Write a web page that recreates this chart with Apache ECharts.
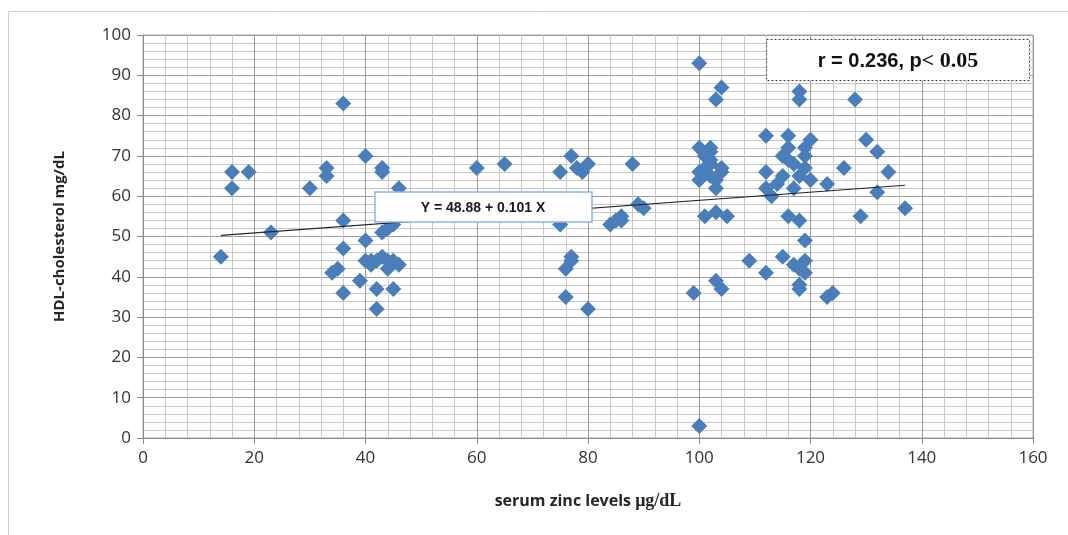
<!DOCTYPE html>
<html>
<head>
<meta charset="utf-8">
<script src="https://cdn.jsdelivr.net/npm/echarts@6/dist/echarts.min.js"></script>
<style>
html,body{margin:0;padding:0;background:#fff;}
#c{width:1068px;height:535px;}
</style>
</head>
<body>
<div id="c"></div>
<script>
// serum zinc (µg/dL) values
var zinc = [
 14,16,16,19,23,30,33,33,36,36,36,36,34,35,39,40,40,40,41,42,42,43,43,43,43,44,44,45,45,45,46,46,41,44,42,
 60,65,75,75,76,76,77,77,77,78,79,80,80,84,85,86,86,88,89,90,
 99,100,100,100,100,100,101,101,102,102,102,102,103,103,103,103,103,104,104,104,104,105,102,101,
 109,112,112,112,112,113,114,115,115,115,116,116,116,116,117,117,118,118,118,118,118,118,118,119,119,119,119,119,119,120,120,117,123,123,124,126,128,129,130,132,132,134,137
];
// HDL-cholesterol (mg/dL) values
var hdl = [
 45,66,62,66,51,62,67,65,83,54,47,36,41,42,39,70,49,44,43,37,32,67,66,51,45,42,44,37,53,44,62,43,44,52,44,
 67,68,66,53,42,35,70,45,44,67,66,68,32,53,54,55,54,68,58,57,
 36,93,72,66,64,3,67,55,72,71,68,65,84,62,64,56,39,87,67,66,37,55,69,70,
 44,75,66,62,41,60,63,70,65,45,75,72,69,55,68,43,86,84,65,54,42,38,37,72,70,67,49,44,41,74,64,62,63,35,36,67,84,55,74,71,61,66,57
];
// regression: Y = 48.88 + 0.101 X, drawn over the data range
var trendIntercept = 48.88;
var trendSlope = 0.101;
var trendX = [14, 137];

var xTicks = {min: 0, max: 160, interval: 20};
var yTicks = {min: 0, max: 100, interval: 10};

var points = zinc.map(function (x, i) { return [x, hdl[i]]; });
var trend = trendX.map(function (x) { return [x, trendIntercept + trendSlope * x]; });

var chart = echarts.init(document.getElementById('c'), null, {renderer: 'canvas'});
var labelFont = '"Open Sans", "Liberation Sans", sans-serif';
chart.setOption({
  animation: false,
  backgroundColor: '#ffffff',
  grid: {left: 143, top: 35, right: 35, bottom: 97, show: true, borderColor: '#a6a6a6', borderWidth: 1},
  xAxis: {
    type: 'value', min: xTicks.min, max: xTicks.max, interval: xTicks.interval,
    axisLine: {show: true, onZero: false, lineStyle: {color: '#8c8c8c'}},
    axisTick: {show: true, length: 6, lineStyle: {color: '#8c8c8c'}},
    axisLabel: {color: '#333333', fontSize: 17, fontFamily: labelFont, margin: 12},
    splitLine: {show: true, lineStyle: {color: '#9c9c9c', width: 1}},
    minorTick: {show: false, splitNumber: 5},
    minorSplitLine: {show: true, lineStyle: {color: '#c8c8c8', width: 1}},
    name: '{a|serum zinc levels }{b|μg/dL}',
    nameLocation: 'middle', nameGap: 54,
    nameTextStyle: {
      rich: {
        a: {fontSize: 16, fontWeight: 'bold', color: '#262626', fontFamily: labelFont},
        b: {fontSize: 18, fontWeight: 'bold', color: '#262626', fontFamily: '"Liberation Serif", serif'}
      }
    }
  },
  yAxis: {
    type: 'value', min: yTicks.min, max: yTicks.max, interval: yTicks.interval,
    axisLine: {show: true, lineStyle: {color: '#8c8c8c'}},
    axisTick: {show: true, length: 6, lineStyle: {color: '#8c8c8c'}},
    axisLabel: {color: '#333333', fontSize: 17, fontFamily: labelFont, margin: 12},
    splitLine: {show: true, lineStyle: {color: '#9c9c9c', width: 1}},
    minorTick: {show: false, splitNumber: 5},
    minorSplitLine: {show: true, lineStyle: {color: '#c8c8c8', width: 1}},
    name: 'HDL-cholesterol mg/dL',
    nameLocation: 'middle', nameGap: 76,
    nameTextStyle: {fontSize: 15, fontWeight: 'bold', color: '#262626', fontFamily: labelFont}
  },
  series: [
    {
      type: 'scatter', data: points, symbol: 'diamond', symbolSize: [16, 16],
      itemStyle: {color: '#4a7ebb', opacity: 1}, z: 3
    },
    {
      type: 'line', data: trend, symbol: 'none', silent: true,
      lineStyle: {color: '#262626', width: 1.2}, z: 4
    }
  ],
  graphic: [
    {type: 'polyline', z: 100, shape: {points: [[8.5, 535], [8.5, 11.5], [1068, 11.5]]},
     style: {stroke: '#d0d0d0', lineWidth: 1, fill: null}, silent: true},
    {type: 'rect', z: 100, shape: {x: 375, y: 192, width: 217, height: 30},
     style: {fill: '#ffffff', stroke: '#8eb4e3', lineWidth: 1.5}},
    {type: 'text', z: 101, x: 483, y: 208,
     style: {text: 'Y = 48.88 + 0.101 X', fill: '#1a1a1a', font: 'bold 14px "Liberation Sans", sans-serif', align: 'center', verticalAlign: 'middle'}},
    {type: 'rect', z: 100, shape: {x: 766.5, y: 39.5, width: 263, height: 41},
     style: {fill: '#ffffff', stroke: '#404040', lineWidth: 1, lineDash: [2, 2]}},
    {type: 'text', z: 101, x: 898, y: 61,
     style: {text: '{a|r = 0.236, p}{b|< 0.05}', align: 'center', verticalAlign: 'middle',
      rich: {
        a: {fontFamily: '"Liberation Sans", sans-serif', fontWeight: 'bold', fontSize: 20, fill: '#111', color: '#111'},
        b: {fontFamily: '"Liberation Serif", serif', fontWeight: 'bold', fontSize: 22, fill: '#111', color: '#111'}
      }}}
  ]
});
</script>
</body>
</html>
